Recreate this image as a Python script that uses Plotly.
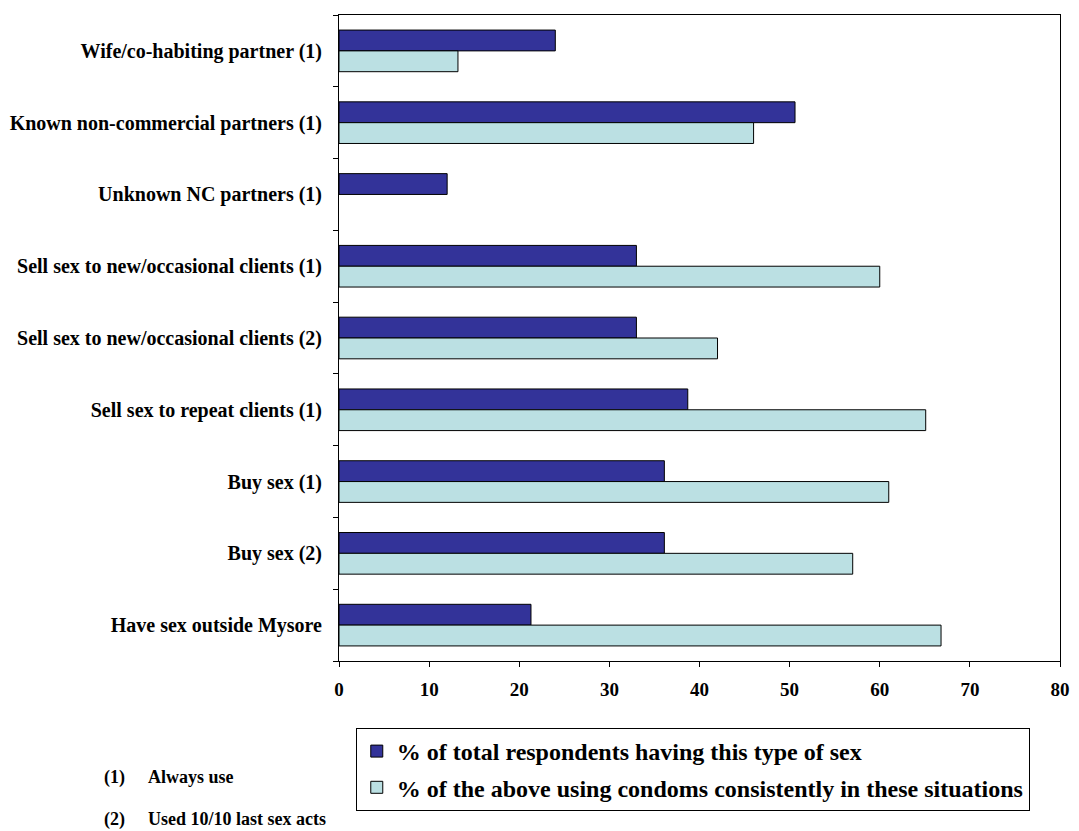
import plotly.graph_objects as go

categories = [
    "Wife/co-habiting partner (1)",
    "Known non-commercial partners (1)",
    "Unknown NC partners (1)",
    "Sell sex to new/occasional clients (1)",
    "Sell sex to new/occasional clients (2)",
    "Sell sex to repeat clients (1)",
    "Buy sex (1)",
    "Buy sex (2)",
    "Have sex outside Mysore",
]
pct_total = [24.0, 50.6, 12.0, 33.0, 33.0, 38.7, 36.1, 36.1, 21.3]
pct_condom = [13.2, 46.0, None, 60.0, 42.0, 65.1, 61.0, 57.0, 66.8]
series_names = [
    "% of total respondents having this type of sex",
    "% of the above using condoms consistently in these situations",
]
x_ticks = [0, 10, 20, 30, 40, 50, 60, 70, 80]
footnotes = [("(1)", "Always use"), ("(2)", "Used 10/10 last sex acts")]

W, H = 1079, 831
L, R, T, B = 339, 9, 15, 170
pw, ph = W - L - R, H - T - B

def px(x):
    return (x - L) / pw

def py(y):
    return (H - B - y) / ph

FONT = "Liberation Serif"

fig = go.Figure()
fig.add_trace(go.Bar(
    y=categories, x=pct_total, orientation="h", name="<b>%s</b>" % series_names[0],
    legendgroup="a",
    marker=dict(color="#333399", line=dict(color="black", width=1)),
))
fig.add_trace(go.Bar(
    y=categories, x=pct_condom, orientation="h", name="<b>%s</b>" % series_names[1],
    legendgroup="b",
    marker=dict(color="#BBE0E3", line=dict(color="black", width=1)),
))

annotations = []
for i, (num, txt) in enumerate(footnotes):
    yy = 777 + i * 42
    annotations.append(dict(text="<b>%s</b>" % num, x=px(99), y=py(yy), xref="paper", yref="paper",
                            xanchor="left", yanchor="middle", showarrow=False,
                            font=dict(family=FONT, size=18, color="black")))
    annotations.append(dict(text="<b>%s</b>" % txt, x=px(143), y=py(yy), xref="paper", yref="paper",
                            xanchor="left", yanchor="middle", showarrow=False,
                            font=dict(family=FONT, size=18, color="black")))

fig.update_layout(
    width=W, height=H,
    margin=dict(l=L, r=R, t=T, b=B, pad=0),
    barmode="group", bargap=0.42, bargroupgap=0,
    plot_bgcolor="white", paper_bgcolor="white",
    font=dict(family=FONT, color="black"),
    xaxis=dict(range=[0, 80], tickvals=x_ticks, ticktext=["<b>%d</b>" % v for v in x_ticks],
               showgrid=False, zeroline=False, showline=True, linecolor="black", linewidth=1,
               mirror=True, ticks="outside", ticklen=5, tickcolor="black",
               ticklabelstandoff=6, ticklabeloverflow="allow",
               tickfont=dict(family=FONT, size=19, color="black")),
    yaxis=dict(autorange="reversed", showgrid=False, showline=True, linecolor="black",
               linewidth=1, mirror=True, ticks="outside", ticklen=5, tickcolor="black",
               tickson="boundaries", ticklabelstandoff=12,
               tickvals=categories, ticktext=["<b>%s</b>" % c for c in categories],
               tickfont=dict(family=FONT, size=20, color="black")),
    legend=dict(x=px(356), y=py(728), xanchor="left", yanchor="top",
                bordercolor="black", borderwidth=1, bgcolor="white",
                font=dict(family=FONT, size=24, color="black"),
                traceorder="grouped", tracegroupgap=2, itemwidth=30),
    annotations=annotations,
    showlegend=True,
)
fig.write_html("out.html")
